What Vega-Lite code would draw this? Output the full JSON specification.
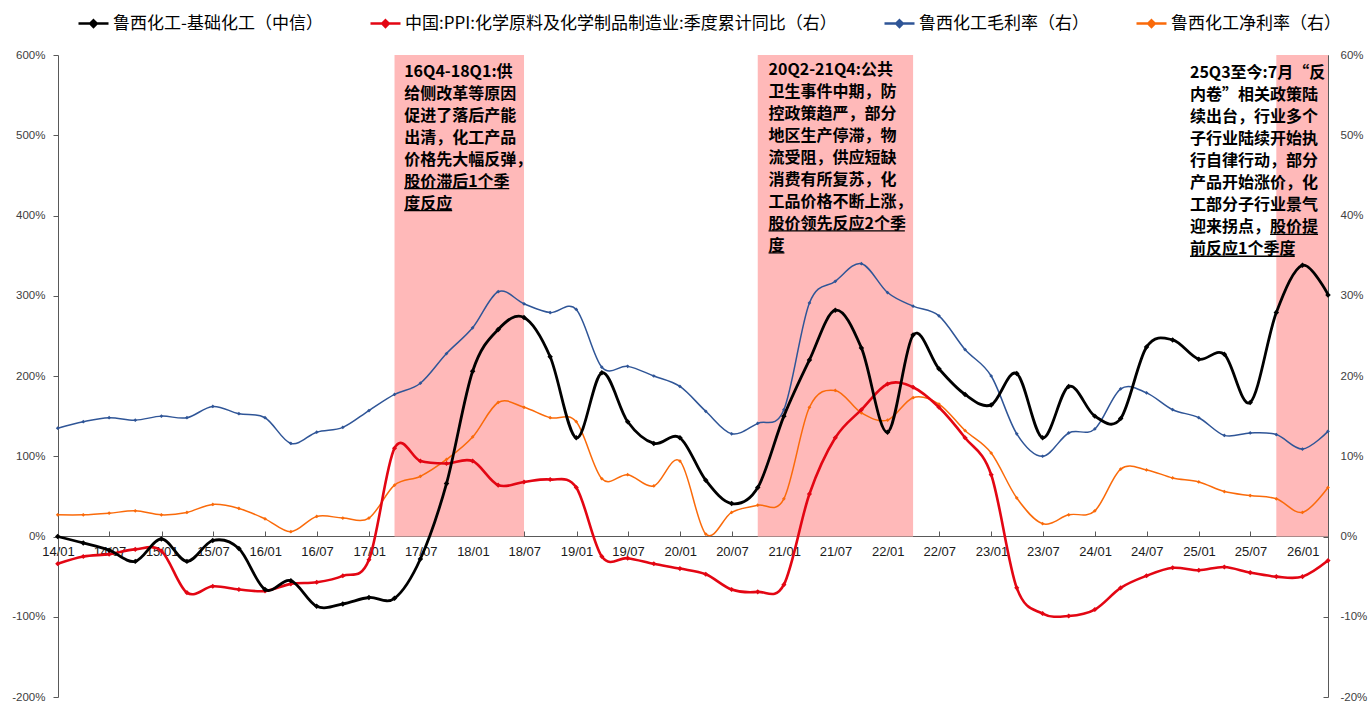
{
  "$schema": "https://vega.github.io/schema/vega-lite/v6.json",
  "width": 1270,
  "height": 642,
  "autosize": {"type": "none"},
  "padding": {"left": 58, "top": 55, "right": 40, "bottom": 5},
  "background": "white",
  "config": {"view": {"stroke": null}, "font": "Liberation Sans"},
  "datasets": {
    "main": [
      {"d": "2013-12-31", "black": 0, "red": -3.4, "blue": 13.5, "orange": 2.7},
      {"d": "2014-03-31", "black": -8, "red": -2.5, "blue": 14.3, "orange": 2.7},
      {"d": "2014-06-30", "black": -17, "red": -2.2, "blue": 14.8, "orange": 2.9},
      {"d": "2014-09-30", "black": -31, "red": -1.6, "blue": 14.5, "orange": 3.2},
      {"d": "2014-12-31", "black": -3, "red": -1.8, "blue": 15.0, "orange": 2.7},
      {"d": "2015-03-31", "black": -31, "red": -7.0, "blue": 14.8, "orange": 3.0},
      {"d": "2015-06-30", "black": -5, "red": -6.2, "blue": 16.2, "orange": 4.0},
      {"d": "2015-09-30", "black": -15, "red": -6.6, "blue": 15.3, "orange": 3.5},
      {"d": "2015-12-31", "black": -66, "red": -6.8, "blue": 14.8, "orange": 2.2},
      {"d": "2016-03-31", "black": -55, "red": -5.9, "blue": 11.6, "orange": 0.6},
      {"d": "2016-06-30", "black": -87, "red": -5.7, "blue": 13.0, "orange": 2.5},
      {"d": "2016-09-30", "black": -84, "red": -4.9, "blue": 13.6, "orange": 2.3},
      {"d": "2016-12-31", "black": -76, "red": -2.9, "blue": 15.7, "orange": 2.3},
      {"d": "2017-03-31", "black": -77, "red": 11.0, "blue": 17.7, "orange": 6.4},
      {"d": "2017-06-30", "black": -28, "red": 9.4, "blue": 19.1, "orange": 7.5},
      {"d": "2017-09-30", "black": 66, "red": 9.1, "blue": 22.8, "orange": 9.6},
      {"d": "2017-12-31", "black": 206, "red": 9.4, "blue": 26.0, "orange": 12.4},
      {"d": "2018-03-31", "black": 258, "red": 6.4, "blue": 30.5, "orange": 16.7},
      {"d": "2018-06-30", "black": 273, "red": 6.8, "blue": 29.0, "orange": 16.1},
      {"d": "2018-09-30", "black": 224, "red": 7.1, "blue": 27.9, "orange": 14.8},
      {"d": "2018-12-31", "black": 123, "red": 6.1, "blue": 28.3, "orange": 14.3},
      {"d": "2019-03-31", "black": 204, "red": -2.5, "blue": 21.1, "orange": 7.2},
      {"d": "2019-06-30", "black": 143, "red": -2.7, "blue": 21.2, "orange": 7.7},
      {"d": "2019-09-30", "black": 116, "red": -3.4, "blue": 20.0, "orange": 6.3},
      {"d": "2019-12-31", "black": 123, "red": -4.0, "blue": 18.7, "orange": 9.4},
      {"d": "2020-03-31", "black": 70, "red": -4.7, "blue": 15.6, "orange": 0.3},
      {"d": "2020-06-30", "black": 41, "red": -6.6, "blue": 12.8, "orange": 3.0},
      {"d": "2020-09-30", "black": 61, "red": -6.9, "blue": 14.1, "orange": 3.9},
      {"d": "2020-12-31", "black": 150, "red": -6.0, "blue": 15.8, "orange": 4.7},
      {"d": "2021-03-31", "black": 220, "red": 5.3, "blue": 29.1, "orange": 16.1},
      {"d": "2021-06-30", "black": 282, "red": 12.3, "blue": 31.8, "orange": 18.2},
      {"d": "2021-09-30", "black": 235, "red": 15.8, "blue": 34.0, "orange": 15.4},
      {"d": "2021-12-31", "black": 130, "red": 19.0, "blue": 30.4, "orange": 14.5},
      {"d": "2022-03-31", "black": 251, "red": 18.6, "blue": 28.7, "orange": 17.3},
      {"d": "2022-06-30", "black": 209, "red": 16.1, "blue": 27.5, "orange": 16.5},
      {"d": "2022-09-30", "black": 177, "red": 12.3, "blue": 23.3, "orange": 13.2},
      {"d": "2022-12-31", "black": 164, "red": 7.7, "blue": 20.0, "orange": 10.4},
      {"d": "2023-03-31", "black": 203, "red": -6.4, "blue": 12.8, "orange": 4.8},
      {"d": "2023-06-30", "black": 123, "red": -9.6, "blue": 10.0, "orange": 1.6},
      {"d": "2023-09-30", "black": 187, "red": -9.9, "blue": 12.9, "orange": 2.7},
      {"d": "2023-12-31", "black": 150, "red": -9.1, "blue": 13.4, "orange": 3.2},
      {"d": "2024-03-31", "black": 147, "red": -6.4, "blue": 18.4, "orange": 8.4},
      {"d": "2024-06-30", "black": 236, "red": -4.9, "blue": 17.9, "orange": 8.3},
      {"d": "2024-09-30", "black": 245, "red": -3.9, "blue": 15.8, "orange": 7.3},
      {"d": "2024-12-31", "black": 221, "red": -4.2, "blue": 14.8, "orange": 6.8},
      {"d": "2025-03-31", "black": 227, "red": -3.8, "blue": 12.6, "orange": 5.6},
      {"d": "2025-06-30", "black": 167, "red": -4.5, "blue": 12.9, "orange": 5.1},
      {"d": "2025-09-30", "black": 279, "red": -5.0, "blue": 12.7, "orange": 4.7},
      {"d": "2025-12-31", "black": 338, "red": -5.0, "blue": 10.9, "orange": 3.0},
      {"d": "2026-03-31", "black": 301, "red": -3.0, "blue": 13.1, "orange": 6.1}
    ],
    "shade": [
      {"d": "2017-03-31", "d2": "2018-06-30"},
      {"d": "2020-09-30", "d2": "2022-03-31"},
      {"d": "2025-09-30", "d2": "2026-03-31"}
    ],
    "notes": [
      {"d": "2017-05-04", "v": 589.4, "t": ["16Q4-18Q1:供", "给侧改革等原因", "促进了落后产能", "出清，化工产品", "价格先大幅反弹，", "股价滞后1个季", "度反应"]},
      {"d": "2020-11-07", "v": 591.5, "t": ["20Q2-21Q4:公共", "卫生事件中期，防", "控政策趋严，部分", "地区生产停滞，物", "流受阻，供应短缺", "消费有所复苏，化", "工品价格不断上涨，", "股价领先反应2个季", "度"]},
      {"d": "2024-11-30", "v": 587.5, "t": ["25Q3至今:7月“反", "内卷”相关政策陆", "续出台，行业多个", "子行业陆续开始执", "行自律行动，部分", "产品开始涨价，化", "工部分子行业景气", "迎来拐点，股价提", "前反应1个季度"]}
    ],
    "underlines": [
      {"d": "2017-05-04", "d2": "2018-05-09", "v": 433.5},
      {"d": "2017-05-04", "d2": "2017-10-20", "v": 406.1},
      {"d": "2020-11-07", "d2": "2022-03-02", "v": 380.8},
      {"d": "2020-11-07", "d2": "2021-01-02", "v": 353.4},
      {"d": "2025-09-08", "d2": "2026-02-24", "v": 376.6},
      {"d": "2024-11-30", "d2": "2025-12-04", "v": 349.2}
    ]
  },
  "layer": [
    {
      "layer": [
        {
          "data": {"name": "shade"},
          "mark": {"type": "rect", "color": "#FFB9B9"},
          "encoding": {
            "x": {
              "field": "d", "type": "temporal",
              "scale": {"type": "utc", "domain": [{"year": 2014, "month": 1, "date": 1, "utc": true}, {"year": 2026, "month": 3, "date": 31, "utc": true}]},
              "axis": {
                "title": null, "orient": "bottom", "offset": -161, "format": "%y/%m",
                "tickCount": {"interval": "month", "step": 6},
                "labelFont": "Liberation Sans", "labelFontSize": 13, "labelColor": "#1a1a1a",
                "labelFlush": false, "labelOverlap": false, "labelPadding": 14, "tickSize": -5,
                "domainColor": "#595959", "tickColor": "#595959", "grid": false
              }
            },
            "x2": {"field": "d2"},
            "y": {"datum": 60, "type": "quantitative"},
            "y2": {"datum": 0}
          }
        },
        {
          "data": {"name": "main"},
          "mark": {"type": "line", "interpolate": "cardinal", "strokeWidth": 1.5},
          "encoding": {
            "x": {"field": "d", "type": "temporal"},
            "y": {"field": "blue", "type": "quantitative"},
            "color": {"datum": "鲁西化工毛利率（右）"}
          }
        },
        {
          "data": {"name": "main"},
          "mark": {"type": "point", "shape": "diamond", "filled": true, "size": 14, "opacity": 1},
          "encoding": {
            "x": {"field": "d", "type": "temporal"},
            "y": {"field": "blue", "type": "quantitative"},
            "color": {"datum": "鲁西化工毛利率（右）"}
          }
        },
        {
          "data": {"name": "main"},
          "mark": {"type": "line", "interpolate": "cardinal", "strokeWidth": 1.5},
          "encoding": {
            "x": {"field": "d", "type": "temporal"},
            "y": {"field": "orange", "type": "quantitative"},
            "color": {"datum": "鲁西化工净利率（右）"}
          }
        },
        {
          "data": {"name": "main"},
          "mark": {"type": "point", "shape": "diamond", "filled": true, "size": 14, "opacity": 1},
          "encoding": {
            "x": {"field": "d", "type": "temporal"},
            "y": {"field": "orange", "type": "quantitative"},
            "color": {"datum": "鲁西化工净利率（右）"}
          }
        },
        {
          "data": {"name": "main"},
          "mark": {"type": "line", "interpolate": "cardinal", "strokeWidth": 2.6},
          "encoding": {
            "x": {"field": "d", "type": "temporal"},
            "y": {"field": "red", "type": "quantitative"},
            "color": {"datum": "中国:PPI:化学原料及化学制品制造业:季度累计同比（右）"}
          }
        },
        {
          "data": {"name": "main"},
          "mark": {"type": "point", "shape": "diamond", "filled": true, "size": 26, "opacity": 1},
          "encoding": {
            "x": {"field": "d", "type": "temporal"},
            "y": {
              "field": "red", "type": "quantitative",
              "scale": {"domain": [-20, 60], "nice": false, "zero": false},
              "axis": {
                "title": null, "orient": "right", "values": [-20, -10, 0, 10, 20, 30, 40, 50, 60],
                "labelExpr": "datum.value + '%'", "labelFont": "Liberation Sans", "labelFontSize": 11.5,
                "labelColor": "#404040", "tickSize": -5, "labelPadding": 17,
                "domainColor": "#595959", "tickColor": "#595959", "grid": false
              }
            },
            "color": {"datum": "中国:PPI:化学原料及化学制品制造业:季度累计同比（右）"}
          }
        }
      ]
    },
    {
      "layer": [
        {
          "data": {"name": "main"},
          "mark": {"type": "line", "interpolate": "cardinal", "strokeWidth": 2.8},
          "encoding": {
            "x": {"field": "d", "type": "temporal"},
            "y": {
              "field": "black", "type": "quantitative",
              "scale": {"domain": [-200, 600], "nice": false, "zero": false},
              "axis": {
                "title": null, "orient": "left", "values": [-200, -100, 0, 100, 200, 300, 400, 500, 600],
                "labelExpr": "datum.value + '%'", "labelFont": "Liberation Sans", "labelFontSize": 11.5,
                "labelColor": "#404040", "tickSize": 5, "labelPadding": 8,
                "domainColor": "#595959", "tickColor": "#595959", "grid": false
              }
            },
            "color": {
              "datum": "鲁西化工-基础化工（中信）",
              "scale": {
                "domain": ["鲁西化工-基础化工（中信）", "中国:PPI:化学原料及化学制品制造业:季度累计同比（右）", "鲁西化工毛利率（右）", "鲁西化工净利率（右）"],
                "range": ["#000000", "#E30613", "#2F5597", "#FA6A0A"]
              },
              "legend": {
                "orient": "none", "legendX": 19, "legendY": -48, "direction": "horizontal",
                "title": null, "padding": 0,
                "labelFont": "Noto Sans CJK SC", "labelFontSize": 17, "labelColor": "#000000", "labelLimit": 1000,
                "symbolType": "M-1,0L1,0M0,-0.22L0.22,0L0,0.22L-0.22,0Z", "symbolSize": 900,
                "symbolStrokeWidth": 2.5, "labelOffset": 3, "columnPadding": 42,
                "encode": {
                  "symbols": {
                    "update": {
                      "fill": {"scale": "color", "field": "value"},
                      "stroke": {"scale": "color", "field": "value"},
                      "opacity": {"value": 1}
                    }
                  }
                }
              }
            }
          }
        },
        {
          "data": {"name": "main"},
          "mark": {"type": "point", "shape": "diamond", "filled": true, "size": 30, "opacity": 1},
          "encoding": {
            "x": {"field": "d", "type": "temporal"},
            "y": {"field": "black", "type": "quantitative"},
            "color": {"datum": "鲁西化工-基础化工（中信）"}
          }
        },
        {
          "data": {"name": "notes"},
          "mark": {"type": "text", "align": "left", "baseline": "top", "font": "Noto Sans CJK SC", "fontSize": 16, "fontWeight": "bold", "lineHeight": 22, "color": "#000000"},
          "encoding": {
            "x": {"field": "d", "type": "temporal"},
            "y": {"field": "v", "type": "quantitative"},
            "text": {"field": "t"}
          }
        },
        {
          "data": {"name": "underlines"},
          "mark": {"type": "rule", "color": "#000000", "strokeWidth": 1.3},
          "encoding": {
            "x": {"field": "d", "type": "temporal"},
            "x2": {"field": "d2"},
            "y": {"field": "v", "type": "quantitative"}
          }
        }
      ]
    }
  ],
  "resolve": {"scale": {"y": "independent"}}
}
